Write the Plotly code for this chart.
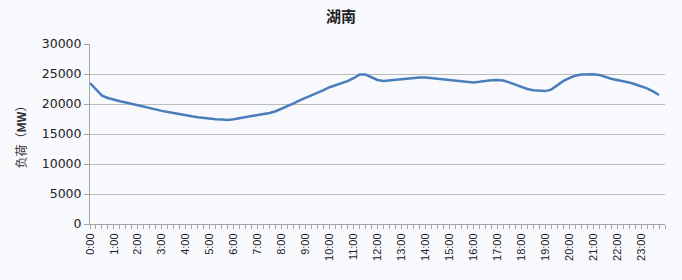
import plotly.graph_objects as go

# 15-minute sample times
times = [f"{h}:{m:02d}" for h in range(24) for m in (0, 15, 30, 45)]

# load (MW)
load = [
    23500, 22500, 21400, 21000,   # 0:00
    20700, 20450, 20250, 20000,   # 1:00
    19750, 19500, 19250, 19050,   # 2:00
    18850, 18650, 18450, 18250,   # 3:00
    18100, 17950, 17800, 17650,   # 4:00
    17550, 17450, 17400, 17350,   # 5:00
    17450, 17650, 17900, 18000,   # 6:00
    18150, 18300, 18500, 18800,   # 7:00
    19200, 19600, 20100, 20600,   # 8:00
    21000, 21500, 21900, 22300,   # 9:00
    22800, 23100, 23400, 23800,   # 10:00
    24300, 24900, 24900, 24500,   # 11:00
    24000, 23850, 23950, 24100,   # 12:00
    24200, 24300, 24400, 24400,   # 13:00
    24400, 24300, 24200, 24000,   # 14:00
    23900, 23800, 23700, 23650,   # 15:00
    23600, 23700, 23850, 23950,   # 16:00
    24000, 23900, 23600, 23200,   # 17:00
    22800, 22500, 22300, 22200,   # 18:00
    22150, 22400, 23100, 23800,   # 19:00
    24300, 24700, 24900, 24950,   # 20:00
    24950, 24850, 24500, 24200,   # 21:00
    24000, 23850, 23600, 23300,   # 22:00
    23000, 22600, 22100, 21500,   # 23:00
]

hour_labels = [f"{h}:00" for h in range(24)]
y_ticks = [0, 5000, 10000, 15000, 20000, 25000, 30000]

def to_hours(s):
    h, m = s.split(":")
    return int(h) + int(m) / 60.0

x = [to_hours(t) for t in times]
hour_vals = [to_hours(t) for t in hour_labels]

fig = go.Figure()
fig.add_trace(go.Scatter(
    x=x, y=load, mode="lines",
    line=dict(color="#4a7ebb", width=2.5),
    showlegend=False,
))

bg = "#f8f9fc"
fig.update_layout(
    width=682, height=280,
    margin=dict(l=90, r=17, t=44, b=56),
    paper_bgcolor=bg, plot_bgcolor=bg,
    title=dict(text="<b>湖南</b>", x=0.5, xanchor="center", y=0.94, yanchor="middle",
               font=dict(family="Noto Sans CJK SC", size=15, color="#222222")),
)
fig.update_xaxes(
    range=[0, 24],
    tickmode="array", tickvals=hour_vals, ticktext=hour_labels,
    tickangle=-90,
    tickfont=dict(family="Liberation Sans Narrow, Liberation Sans", size=11, color="#222222"),
    ticks="outside", ticklen=4, tickcolor="#a6a6a6",
    minor=dict(dtick=0.25, ticks="outside", ticklen=4, tickcolor="#a6a6a6", showgrid=False),
    showgrid=False, showline=True, linecolor="#a6a6a6", linewidth=1,
    zeroline=False,
)
fig.update_yaxes(
    range=[0, 30000],
    tickmode="array", tickvals=y_ticks, ticktext=[str(v) for v in y_ticks],
    tickfont=dict(family="DejaVu Sans", size=12.5, color="#222222"),
    ticks="outside", ticklen=5, tickcolor="#a6a6a6",
    showgrid=True, gridcolor="#bcbcbc", gridwidth=1,
    showline=True, linecolor="#a6a6a6", linewidth=1,
    zeroline=False,
    title=dict(text="负荷（<b>MW</b>）", standoff=12,
               font=dict(family="Noto Sans CJK SC", size=12, color="#333333")),
)

fig.write_html("out.html")
